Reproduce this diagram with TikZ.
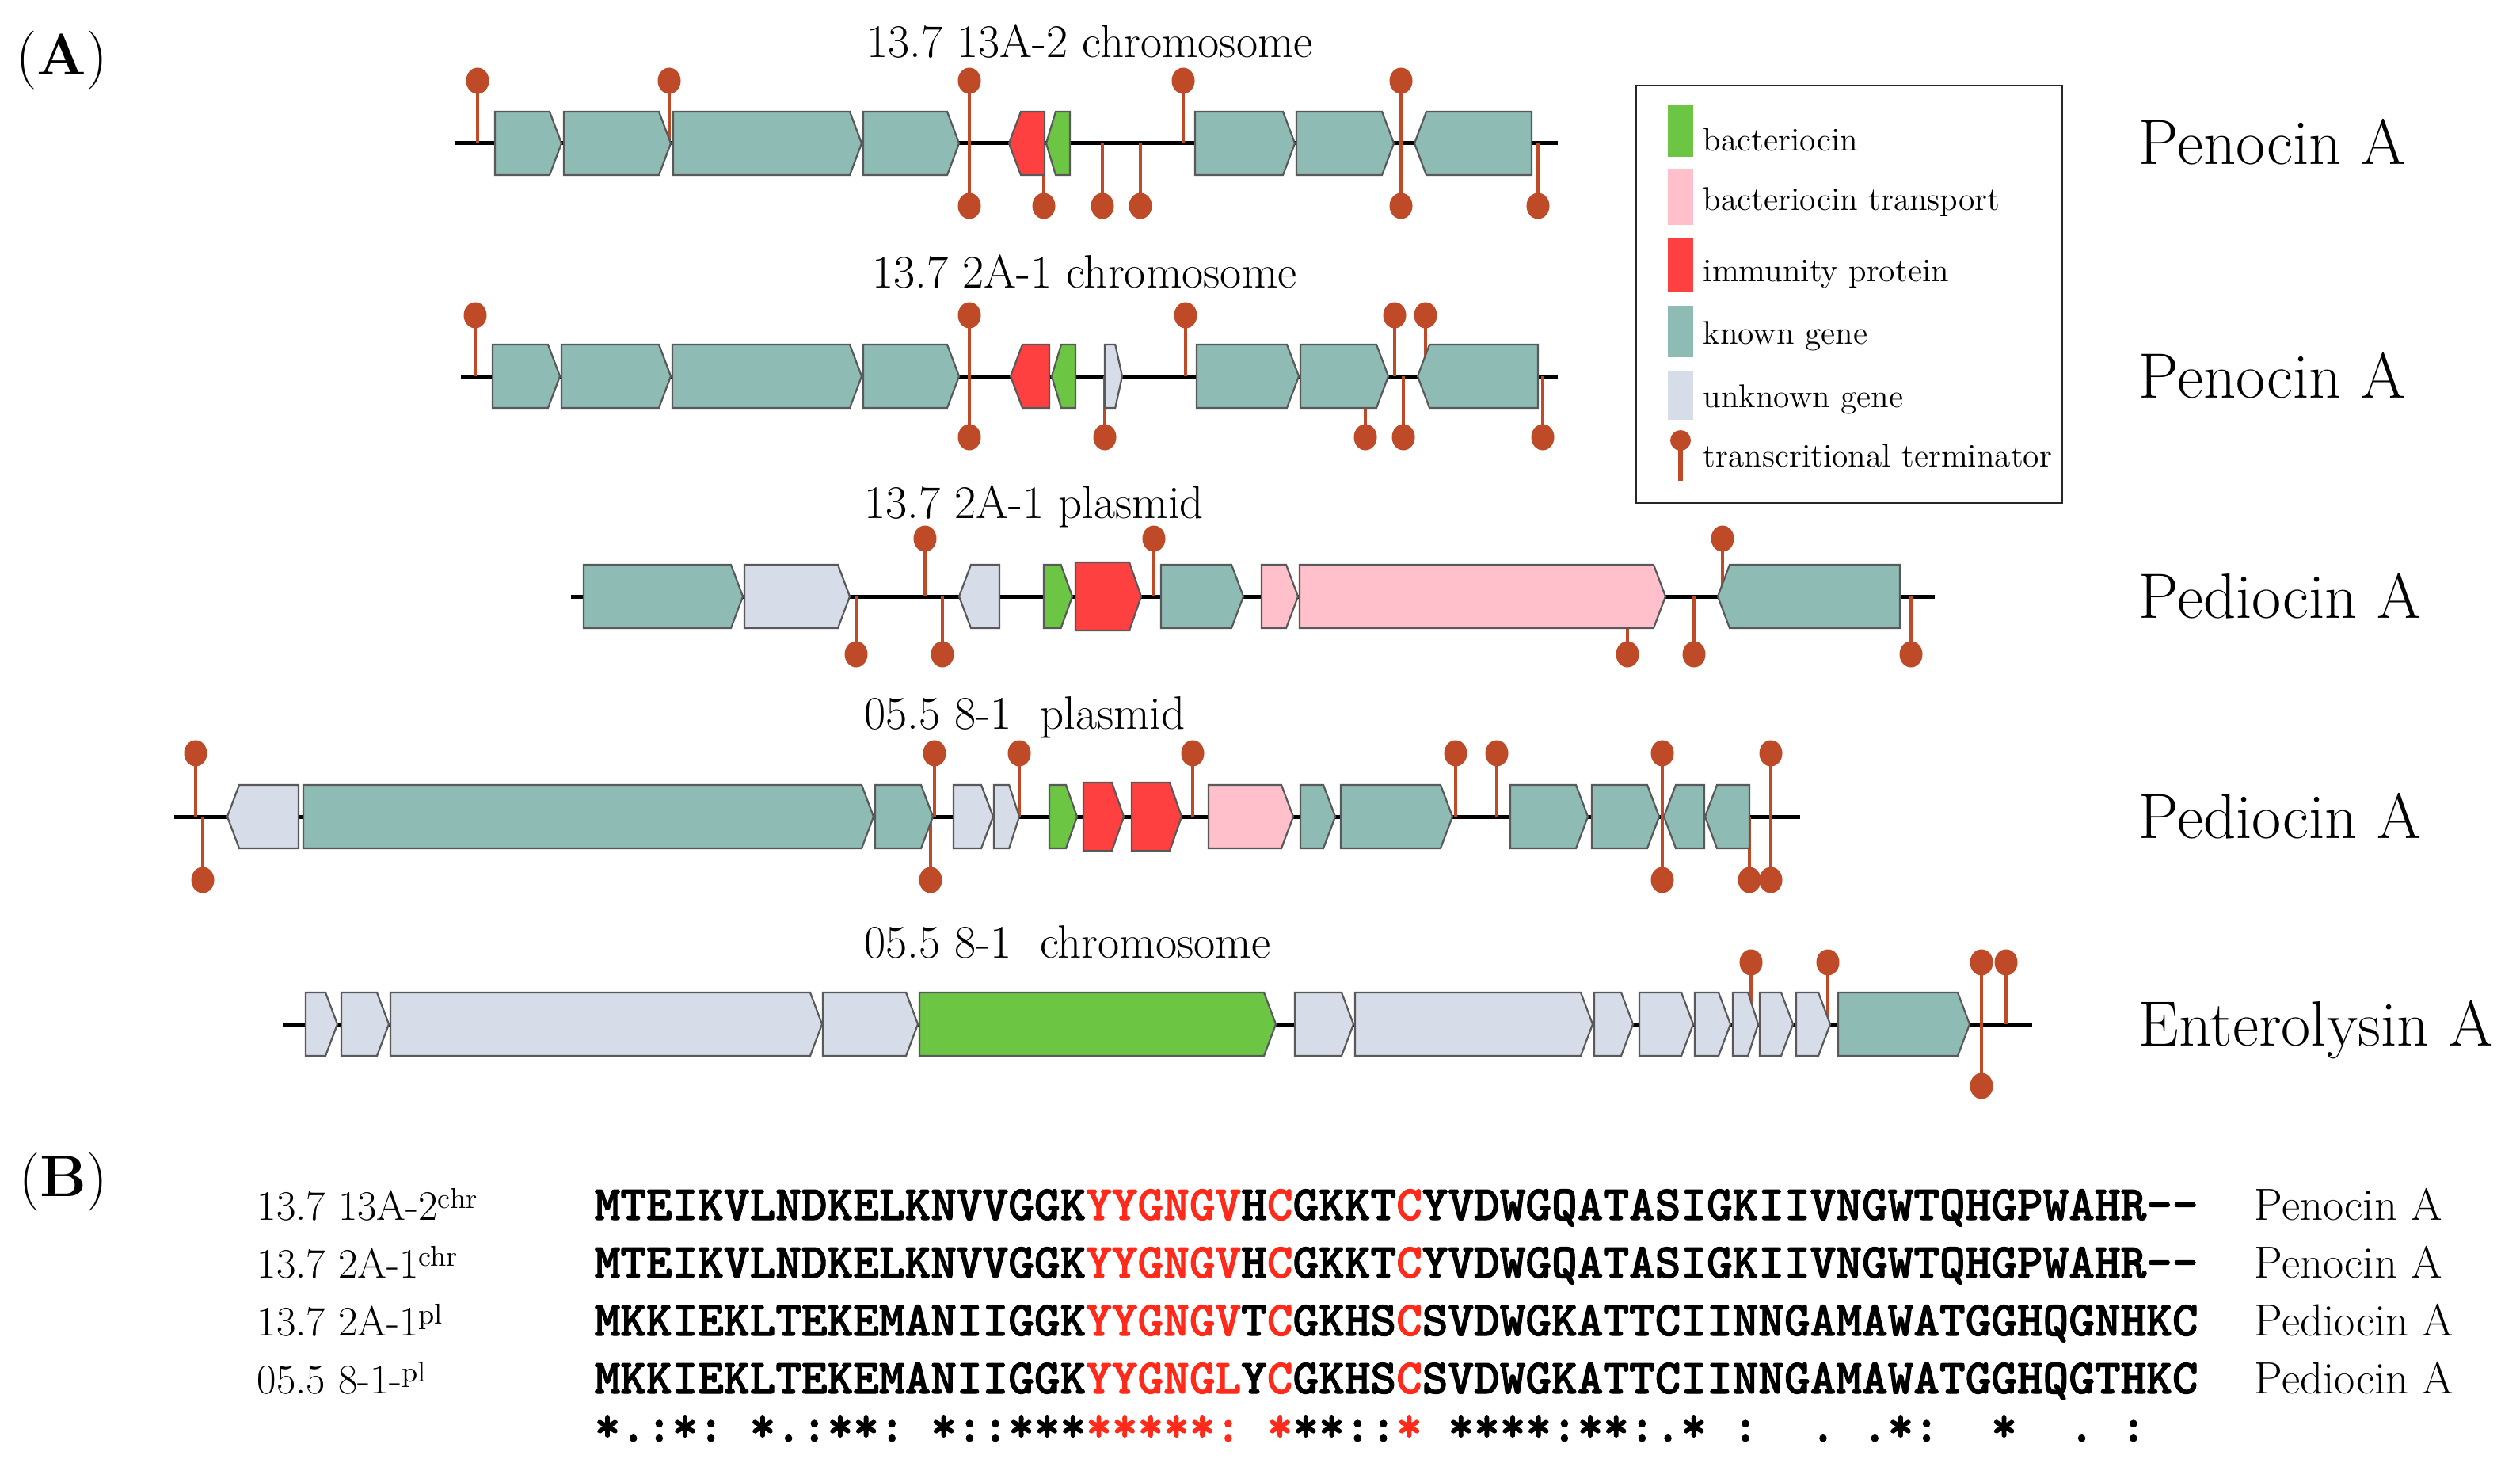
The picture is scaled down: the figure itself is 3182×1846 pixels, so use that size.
\documentclass[tikz,border=0pt]{standalone}
\usepackage{fontspec}
\newfontfamily\seqf{lmmonolt10-bold}[Extension=.otf,FakeBold=1.6]
\definecolor{known}{HTML}{8FBBB5}
\definecolor{unknown}{HTML}{D6DCE8}
\definecolor{bact}{HTML}{6CC644}
\definecolor{immun}{HTML}{FF4040}
\definecolor{transp}{HTML}{FFC0CB}
\definecolor{termc}{HTML}{BF4A28}
\definecolor{seqred}{HTML}{FF2A1A}
\newcommand\R[1]{\textcolor{seqred}{#1}}
\newcommand\B{\phantom{*}}
\newcommand\ghh{40}
\newcommand\toff{78}
\newcommand\gr[4]{%
  \pgfmathsetmacro\hdl{min(15,0.4*(#2-#1))}%
  \filldraw[gene,fill=#4] (#1,#3-\ghh) -- (#2-\hdl,#3-\ghh) -- (#2,#3) -- (#2-\hdl,#3+\ghh) -- (#1,#3+\ghh) -- cycle;}
\newcommand\gl[4]{%
  \pgfmathsetmacro\hdl{min(15,0.4*(#2-#1))}%
  \filldraw[gene,fill=#4] (#2,#3-\ghh) -- (#1+\hdl,#3-\ghh) -- (#1,#3) -- (#1+\hdl,#3+\ghh) -- (#2,#3+\ghh) -- cycle;}
\newcommand\tu[2]{\draw[stem] (#1,#2) -- (#1,#2-\toff);
  \fill[termc] (#1,#2-\toff) ellipse [x radius=1.45mm, y radius=1.65mm];}
\newcommand\td[2]{\draw[stem] (#1,#2) -- (#1,#2+\toff);
  \fill[termc] (#1,#2+\toff) ellipse [x radius=1.45mm, y radius=1.65mm];}
\begin{document}
\begin{tikzpicture}[x=0.1mm,y=-0.1mm,
  trackline/.style={line width=0.5mm,black},
  stem/.style={line width=0.35mm,termc},
  gene/.style={draw=black!65,line width=0.22mm,line join=miter},
  lab/.style={inner sep=0pt,anchor=base west,font=\fontsize{16.8}{19}\selectfont},
  big/.style={inner sep=0pt,anchor=base west,font=\fontsize{23}{26}\selectfont},
  leg/.style={inner sep=0pt,anchor=base west,font=\fontsize{11.8}{14}\selectfont},
  blab/.style={inner sep=0pt,anchor=base west,font=\fontsize{15.1}{17}\selectfont},
  brlab/.style={inner sep=0pt,anchor=base west,font=\fontsize{16.2}{18}\selectfont},
  seq/.style={inner sep=0pt,anchor=base west,font=\seqf\fontsize{17.7}{19}\selectfont},
  panel/.style={inner sep=0pt,anchor=base west,font=\fontsize{21}{24}\selectfont}]
\useasboundingbox (0,0) rectangle (3182,1846);
\fill[white] (0,0) rectangle (3182,1846);

\node[panel] (pA) at (20,95) {(\textbf{A})};
\node[panel] (pB) at (24,1510) {(\textbf{B})};

% ---------- Row 1 ----------
\node[lab] (l1) at (1094,73) {13.7 13A-2 chromosome};
\draw[trackline] (575,181) -- (1967,181);
\renewcommand\toff{79}
\tu{603}{181} \tu{845}{181} \tu{1224}{181} \td{1224}{181} \td{1318}{181}
\td{1392}{181} \td{1440}{181} \tu{1494}{181} \tu{1769}{181} \td{1769}{181} \td{1942}{181}
\gr{625}{709}{181}{known} \gr{712}{847}{181}{known} \gr{850}{1088}{181}{known}
\gr{1090}{1211}{181}{known} \gl{1274}{1319}{181}{immun} \gl{1321}{1351}{181}{bact}
\gr{1509}{1635}{181}{known} \gr{1637}{1760}{181}{known} \gl{1786}{1934}{181}{known}
\node[big] (r1) at (2700,208) {Penocin A};

% ---------- Row 2 ----------
\node[lab] (l2) at (1101,363) {13.7 2A-1 chromosome};
\draw[trackline] (582,475) -- (1967,475);
\renewcommand\toff{77}
\tu{600}{475} \tu{1224}{475} \td{1224}{475} \td{1395}{475} \tu{1497}{475}
\td{1724}{475} \tu{1761}{475} \td{1772}{475} \tu{1800}{475} \td{1948}{475}
\gr{622}{707}{475}{known} \gr{709}{847}{475}{known} \gr{849}{1088}{475}{known}
\gr{1090}{1211}{475}{known} \gl{1276}{1325}{475}{immun} \gl{1328}{1358}{475}{bact}
\gr{1395}{1417}{475}{unknown}
\gr{1511}{1640}{475}{known} \gr{1642}{1753}{475}{known} \gl{1790}{1942}{475}{known}
\node[big] (r2) at (2700,502) {Penocin A};

% ---------- Row 3 ----------
\node[lab] (l3) at (1091,654) {13.7 2A-1 plasmid};
\draw[trackline] (721,753) -- (2443,753);
\renewcommand\toff{73}
\td{1081}{753} \tu{1168}{753} \td{1190}{753} \tu{1457}{753}
\td{2055}{753} \td{2139}{753} \tu{2175}{753} \td{2413}{753}
\gr{737}{938}{753}{known} \gr{940}{1073}{753}{unknown} \gl{1211}{1262}{753}{unknown}
\gr{1318}{1354}{753}{bact}
\renewcommand\ghh{43}\gr{1358}{1441}{753}{immun}\renewcommand\ghh{40}
\gr{1466}{1570}{753}{known} \gr{1593}{1639}{753}{transp} \gr{1641}{2103}{753}{transp}
\gl{2169}{2399}{753}{known}
\node[big] (r3) at (2700,780) {Pediocin A};

% ---------- Row 4 ----------
\node[lab] (l4) at (1091,920) {05.5 8-1\hspace{0.6em}plasmid};
\draw[trackline] (220,1031) -- (2273,1031);
\renewcommand\toff{80}
\tu{247}{1031} \td{256}{1031} \tu{1180}{1031} \td{1175}{1031} \tu{1287}{1031}
\tu{1506}{1031} \tu{1838}{1031} \tu{1890}{1031} \tu{2099}{1031} \td{2099}{1031}
\td{2209}{1031} \tu{2236}{1031} \td{2236}{1031}
\gl{287}{377}{1031}{unknown} \gr{383}{1103}{1031}{known} \gr{1105}{1178}{1031}{known}
\gr{1204}{1254}{1031}{unknown} \gr{1255}{1287}{1031}{unknown} \gr{1325}{1360}{1031}{bact}
\renewcommand\ghh{43}\gr{1368}{1419}{1031}{immun} \gr{1429}{1492}{1031}{immun}\renewcommand\ghh{40}
\gr{1526}{1633}{1031}{transp} \gr{1642}{1686}{1031}{known} \gr{1693}{1834}{1031}{known}
\gr{1907}{2005}{1031}{known} \gr{2010}{2095}{1031}{known} \gl{2101}{2152}{1031}{known}
\gl{2153}{2209}{1031}{known}
\node[big] (r4) at (2700,1058) {Pediocin A};

% ---------- Row 5 ----------
\node[lab] (l5) at (1091,1209) {05.5 8-1\hspace{0.6em}chromosome};
\draw[trackline] (357,1293) -- (2566,1293);
\renewcommand\toff{78}
\tu{2211}{1293} \tu{2308}{1293} \tu{2502}{1293} \td{2502}{1293} \tu{2533}{1293}
\gr{386}{426}{1293}{unknown} \gr{431}{491}{1293}{unknown} \gr{493}{1038}{1293}{unknown}
\gr{1039}{1159}{1293}{unknown} \gr{1161}{1611}{1293}{bact} \gr{1635}{1709}{1293}{unknown}
\gr{1711}{2011}{1293}{unknown} \gr{2013}{2062}{1293}{unknown} \gr{2070}{2138}{1293}{unknown}
\gr{2140}{2185}{1293}{unknown} \gr{2188}{2220}{1293}{unknown} \gr{2222}{2264}{1293}{unknown}
\gr{2268}{2311}{1293}{unknown} \gr{2321}{2487}{1293}{known}
\node[big] (r5) at (2700,1320) {Enterolysin A};

% ---------- Legend ----------
\draw[line width=0.25mm,black!85] (2066,108) rectangle (2604,635);
\fill[bact] (2106,133) rectangle (2138,198);
\fill[transp] (2106,213) rectangle (2138,284);
\fill[immun] (2106,300) rectangle (2138,369);
\fill[known] (2106,386) rectangle (2138,451);
\fill[unknown] (2106,469) rectangle (2138,530);
\draw[line width=0.6mm,termc] (2122,556) -- (2122,607);
\fill[termc] (2122,556) circle [radius=1.3mm];
\node[leg] (e1) at (2150,190) {bacteriocin};
\node[leg] (e2) at (2150,266) {bacteriocin transport};
\node[leg] (e3) at (2150,355) {immunity protein};
\node[leg] (e4) at (2150,434) {known gene};
\node[leg] (e5) at (2150,514) {unknown gene};
\node[leg] (e6) at (2150,589) {transcritional terminator};

% ---------- Part B ----------
\node[blab] (b1) at (324,1540) {13.7 13A-2\raisebox{4pt}{\fontsize{10.3}{10}\selectfont chr}};
\node[blab] (b2) at (324,1613) {13.7 2A-1\raisebox{4pt}{\fontsize{10.3}{10}\selectfont chr}};
\node[blab] (b3) at (324,1686) {13.7 2A-1\raisebox{4pt}{\fontsize{10.3}{10}\selectfont pl}};
\node[blab] (b4) at (324,1759) {05.5 8-1-\raisebox{4pt}{\fontsize{10.3}{10}\selectfont pl}};

\node[seq] (s1) at (750,1540) {MTEIKVLNDKELKNVVGGK\R{YYGNGV}H\R{C}GKKT\R{C}YVDWGQATASIGKIIVNGWTQHGPWAHR-\kern0pt-};
\node[seq] (s2) at (750,1613) {MTEIKVLNDKELKNVVGGK\R{YYGNGV}H\R{C}GKKT\R{C}YVDWGQATASIGKIIVNGWTQHGPWAHR-\kern0pt-};
\node[seq] (s3) at (750,1686) {MKKIEKLTEKEMANIIGGK\R{YYGNGV}T\R{C}GKHS\R{C}SVDWGKATTCIINNGAMAWATGGHQGNHKC};
\node[seq] (s4) at (750,1759) {MKKIEKLTEKEMANIIGGK\R{YYGNGL}Y\R{C}GKHS\R{C}SVDWGKATTCIINNGAMAWATGGHQGTHKC};
\node[seq] (s5) at (750,1820) {*.:*:\B*.:**:\B*::***\R{*****:}\B\R{*}**::\R{*}\B****:**:.*\B:\B\B.\B.*:\B\B*\B\B.\B:};

\node[brlab] (br1) at (2846,1540) {Penocin A};
\node[brlab] (br2) at (2846,1613) {Penocin A};
\node[brlab] (br3) at (2846,1686) {Pediocin A};
\node[brlab] (br4) at (2846,1759) {Pediocin A};
\end{tikzpicture}
\end{document}
